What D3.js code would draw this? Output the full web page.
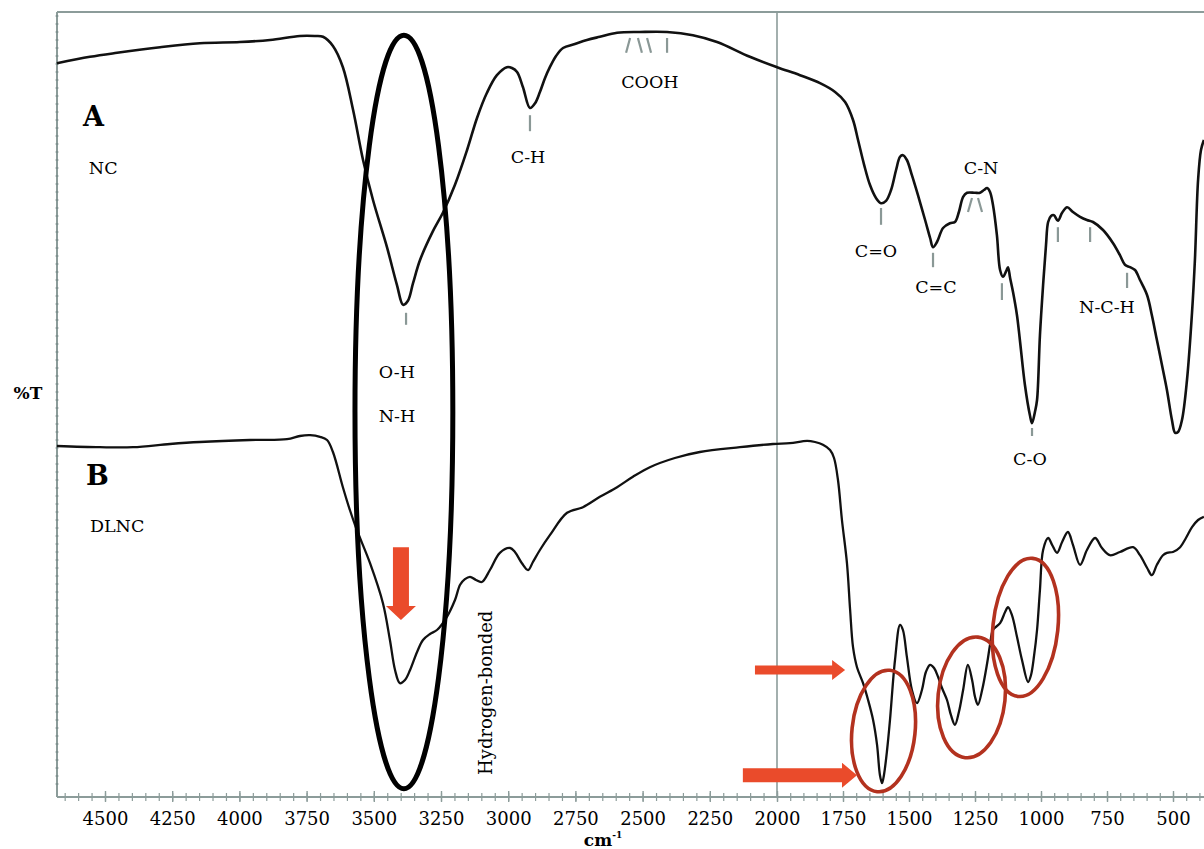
<!DOCTYPE html>
<html>
<head>
<meta charset="utf-8">
<script src="https://cdn.jsdelivr.net/npm/d3@7"></script>
<style>
  body { margin: 0; background: #fff; }
  svg { display: block; font-family: "DejaVu Serif", serif; }
</style>
</head>
<body>
<svg width="1204" height="849"></svg>
<script>
'use strict';
// wavenumber (cm-1), %T (arbitrary offset units)
const ncSpectrum = [
  [4679, 92.1], [4556, 92.9], [4455, 93.4], [4295, 94.1], [4147, 94.6], [3998, 94.75],
  [3886, 95], [3775, 95.5], [3719, 95.5], [3689, 95.4], [3652, 94.25], [3615, 91.6],
  [3577, 86.25], [3540, 80], [3503, 75], [3451, 69.1], [3414, 64.4], [3391, 61.9],
  [3373, 62.4], [3354, 64.6], [3328, 67.5], [3280, 71.1], [3243, 73.4], [3198, 76.9],
  [3153, 81.25], [3116, 85.25], [3079, 88.4], [3042, 90.6], [3005, 91.6], [2986, 91.5],
  [2967, 91], [2945, 89.1], [2919, 86.5], [2900, 87.1], [2882, 88.5], [2863, 90.25],
  [2845, 91.6], [2822, 93], [2796, 94], [2752, 94.5], [2707, 95], [2659, 95.4],
  [2595, 95.9], [2510, 96], [2409, 96], [2313, 95.6], [2223, 94.75], [2101, 92.9],
  [2000, 91.6], [1913, 90.6], [1837, 89.6], [1780, 88.5], [1742, 87.25], [1712, 85],
  [1693, 82.5], [1670, 79.4], [1648, 76.9], [1625, 75.25], [1606, 74.6], [1587, 74.9],
  [1568, 76.25], [1549, 78.75], [1534, 80.4], [1523, 80.6], [1508, 80], [1489, 78.1],
  [1466, 75.6], [1439, 72.5], [1420, 70.25], [1409, 69.1], [1394, 69.75], [1371, 71.5],
  [1345, 72.1], [1326, 72.25], [1311, 73.5], [1295, 75.4], [1280, 75.9], [1250, 75.9],
  [1231, 75.9], [1216, 76.25], [1204, 76.5], [1193, 76], [1182, 74.4], [1167, 70.6],
  [1155, 66.25], [1144, 65.4], [1132, 66.1], [1125, 66.6], [1117, 65.25], [1106, 63.5],
  [1091, 60.6], [1080, 57.5], [1061, 51.9], [1042, 48.1], [1034, 47.1], [1023, 48.5],
  [1015, 50], [1004, 58.1], [992, 64.4], [981, 69.4], [973, 72.25], [962, 73],
  [951, 73.1], [936, 72.4], [920, 73.4], [901, 74.1], [879, 73.5], [852, 72.9],
  [826, 72.5], [803, 72.25], [765, 71.25], [727, 69.6], [701, 68.1], [682, 66.9],
  [663, 66.6], [644, 66.25], [625, 65], [598, 63.1], [580, 60.6], [561, 57.5],
  [542, 54.4], [523, 51.25], [504, 47.5], [492, 45.9], [481, 46], [466, 47.5],
  [447, 52.5], [428, 60.9], [417, 67.5], [405, 77.5], [394, 81.25], [383, 82.5]
];

const dlncSpectrum = [
  [4679, 44.25], [4519, 44.1], [4396, 44.1], [4258, 44.5], [4147, 44.75], [3961, 45],
  [3823, 45.1], [3775, 45.5], [3737, 45.6], [3700, 45.4], [3674, 45], [3652, 43.5],
  [3615, 39.1], [3589, 36.25], [3563, 33.75], [3514, 29.6], [3466, 24.6], [3440, 20],
  [3421, 16.25], [3403, 14.6], [3384, 15], [3365, 16.25], [3339, 18.5], [3317, 20],
  [3291, 20.75], [3265, 21.25], [3228, 22.9], [3198, 25], [3179, 26.9], [3161, 27.6],
  [3142, 27.9], [3120, 27.5], [3098, 27.25], [3068, 28.75], [3031, 30.9], [2993, 31.5],
  [2975, 31], [2949, 29.6], [2926, 28.75], [2908, 29.75], [2882, 31.25], [2845, 33.1],
  [2781, 35.9], [2722, 36.6], [2659, 37.9], [2595, 39.1], [2536, 40.4], [2473, 41.6],
  [2380, 42.75], [2287, 43.5], [2138, 44.1], [2015, 44.5], [1951, 44.6], [1886, 44.9],
  [1856, 44.75], [1826, 44.4], [1799, 43.75], [1784, 42.75], [1769, 40], [1754, 35],
  [1735, 29.6], [1723, 23.75], [1712, 19.1], [1697, 16.6], [1674, 14.6], [1655, 12.5],
  [1636, 10], [1621, 6.9], [1610, 3.1], [1602, 2.1], [1595, 3.1], [1583, 6.25],
  [1572, 10], [1553, 17.5], [1534, 21.9], [1523, 21.25], [1508, 17.9], [1489, 13.75],
  [1470, 12.1], [1451, 13.75], [1436, 16], [1420, 16.9], [1405, 16.5], [1390, 15.4],
  [1375, 14], [1356, 12.5], [1341, 10.6], [1326, 9.4], [1311, 11], [1295, 13.75],
  [1277, 16.9], [1261, 15], [1250, 12.9], [1239, 11.9], [1223, 13.75], [1204, 17.1],
  [1193, 19.4], [1182, 21.25], [1155, 22.1], [1136, 23.5], [1125, 24.1], [1110, 23.1],
  [1091, 20.4], [1072, 17.5], [1049, 14.75], [1038, 15.6], [1026, 18.1], [1015, 21.25],
  [1004, 26.25], [992, 31.25], [973, 32.75], [958, 31.9], [939, 30.9], [920, 32.25],
  [898, 33.5], [879, 31.9], [852, 29.4], [826, 31.25], [795, 32.75], [769, 31.5],
  [739, 30.6], [701, 31], [651, 31.6], [625, 30.6], [598, 29], [580, 28.1],
  [561, 29.4], [538, 30.6], [523, 30.9], [500, 31], [473, 31.6], [451, 32.75],
  [428, 34.1], [405, 35], [383, 35.4]
];

const majorTicks = d3.range(4500, 499, -250);
const minorTicks = d3.range(4650, 399, -50);

const panelLabels = [
  { text: 'A', wave: 4582, t: 84.25, bold: true },
  { text: 'NC', wave: 4560, t: 78.25 },
  { text: 'B', wave: 4571, t: 39.4, bold: true },
  { text: 'DLNC', wave: 4556, t: 33.5 }
];

const peakLabels = [
  { text: 'O-H', wave: 3414, t: 52.75 },
  { text: 'N-H', wave: 3414, t: 47.25 },
  { text: 'C-H', wave: 2926, t: 79.6 },
  { text: 'COOH', wave: 2473, t: 89 },
  { text: 'C=O', wave: 1625, t: 67.9 },
  { text: 'C=C', wave: 1398, t: 63.4 },
  { text: 'C-N', wave: 1227, t: 78.25 },
  { text: 'N-C-H', wave: 750, t: 60.9 },
  { text: 'C-O', wave: 1042, t: 41.9 }
];

// [wave, top %T, bottom %T, lean]
const peakTicks = [
  [3380, 60.9, 59.4, 0], [2919, 85.6, 83.6, 0],
  [2554, 95.25, 93.4, 1], [2510, 95.25, 93.4, -1], [2476, 95.25, 93.4, -1], [2409, 95.25, 93.4, 0],
  [1606, 74, 71.9, 0], [1409, 68.4, 66.6, 0],
  [1269, 75.25, 73.5, 1], [1231, 75.25, 73.5, -1],
  [1148, 64.6, 62.5, 0], [936, 71.6, 69.75, 0], [814, 71.6, 69.75, 0],
  [674, 65.9, 64, 0], [1034, 46.5, 45.5, 0]
];

// ellipse bounds: wave1, wave2, t1, t2
const blackRing = [3570, 3206, 95.6, 1.4];
const redRings = [
  [1716, 1477, 16.25, 1],
  [1390, 1136, 20.4, 5.25],
  [1182, 936, 30.25, 12.9]
];

const svg = d3.select('svg');
const plot = { left: 57, right: 1204, top: 12, bottom: 797 };
const axisColor = '#8c9c9a';

const x = d3.scaleLinear().domain([4500, 2000, 500]).range([105, 777, 1173]);
const y = d3.scaleLinear().domain([0, 100]).range([800, 0]);

svg.append('rect').attr('width', 1204).attr('height', 849).attr('fill', '#fff');

// frame
svg.append('line')
  .attr('x1', plot.left).attr('x2', plot.right)
  .attr('y1', plot.top).attr('y2', plot.top)
  .attr('stroke', axisColor).attr('stroke-width', 2);
svg.append('line')
  .attr('x1', plot.left).attr('x2', plot.left)
  .attr('y1', plot.top).attr('y2', plot.bottom)
  .attr('stroke', axisColor).attr('stroke-width', 2);
svg.append('line')
  .attr('x1', x(2000)).attr('x2', x(2000))
  .attr('y1', plot.top).attr('y2', plot.bottom)
  .attr('stroke', axisColor).attr('stroke-width', 1.6);

// little dots along the left edge
svg.append('g')
  .selectAll('line')
  .data(d3.range(2, 99, 1))
  .join('line')
    .attr('x1', plot.left - 1.5).attr('x2', plot.left + 1.5)
    .attr('y1', d => y(d)).attr('y2', d => y(d))
    .attr('stroke', '#6f8381').attr('stroke-width', 1);

// x axis
const xaxis = svg.append('g').attr('transform', `translate(0, ${plot.bottom})`);
xaxis.append('line')
  .attr('x1', plot.left).attr('x2', plot.right)
  .attr('stroke', axisColor).attr('stroke-width', 2);
xaxis.append('g')
  .call(d3.axisBottom(x).tickValues(minorTicks).tickFormat('').tickSize(4))
  .call(g => g.select('.domain').remove())
  .selectAll('.tick line')
    .attr('y1', -4).attr('stroke', axisColor).attr('stroke-width', 1.2);
xaxis.append('g')
  .call(d3.axisBottom(x).tickValues(majorTicks).tickFormat(d3.format('d')).tickSize(5).tickPadding(10))
  .call(g => g.select('.domain').remove())
  .call(g => g.selectAll('.tick line').attr('y1', -6).attr('stroke', axisColor).attr('stroke-width', 1.4))
  .selectAll('.tick text')
    .attr('font-family', '"DejaVu Serif", serif')
    .attr('font-size', 18)
    .attr('fill', '#000');

// axis titles
svg.append('text')
  .attr('x', 28).attr('y', (plot.top + plot.bottom) / 2 - 6)
  .attr('text-anchor', 'middle')
  .attr('font-weight', 'bold').attr('font-size', 17)
  .text('%T');
const unit = svg.append('text')
  .attr('x', 603).attr('y', 846)
  .attr('text-anchor', 'middle')
  .attr('font-weight', 'bold').attr('font-size', 17);
unit.append('tspan').text('cm');
unit.append('tspan').attr('dy', -8).attr('font-size', 9).text('-1');

// spectra
const line = d3.line()
  .x(d => x(d[0]))
  .y(d => y(d[1]))
  .curve(d3.curveCatmullRom.alpha(0.5));

svg.append('path').datum(ncSpectrum)
  .attr('d', line).attr('fill', 'none')
  .attr('stroke', '#111').attr('stroke-width', 2.6)
  .attr('stroke-linejoin', 'round');
svg.append('path').datum(dlncSpectrum)
  .attr('d', line).attr('fill', 'none')
  .attr('stroke', '#111').attr('stroke-width', 2.3)
  .attr('stroke-linejoin', 'round');

// peak ticks
svg.append('g')
  .selectAll('line')
  .data(peakTicks)
  .join('line')
    .attr('x1', d => x(d[0]) + d[3] * 2).attr('x2', d => x(d[0]) - d[3] * 2)
    .attr('y1', d => y(d[1])).attr('y2', d => y(d[2]))
    .attr('stroke', '#8a9896').attr('stroke-width', 2.2);

// labels
svg.append('g')
  .selectAll('text')
  .data(panelLabels)
  .join('text')
    .attr('x', d => x(d.wave)).attr('y', d => y(d.t))
    .attr('font-size', d => d.bold ? 27 : 17.5)
    .attr('font-weight', d => d.bold ? 'bold' : 'normal')
    .attr('fill', '#000')
    .text(d => d.text);

svg.append('g')
  .selectAll('text')
  .data(peakLabels)
  .join('text')
    .attr('x', d => x(d.wave)).attr('y', d => y(d.t))
    .attr('text-anchor', 'middle')
    .attr('font-size', 17.5)
    .attr('fill', '#000')
    .text(d => d.text);

svg.append('text')
  .attr('transform', `translate(${x(3060)}, ${y(13.4)}) rotate(-90)`)
  .attr('text-anchor', 'middle')
  .attr('font-size', 18)
  .attr('fill', '#000')
  .text('Hydrogen-bonded');

// rings
function ring(b) {
  return {
    cx: (x(b[0]) + x(b[1])) / 2,
    cy: (y(b[2]) + y(b[3])) / 2,
    rx: Math.abs(x(b[0]) - x(b[1])) / 2,
    ry: Math.abs(y(b[2]) - y(b[3])) / 2
  };
}

const br = ring(blackRing);
svg.append('ellipse')
  .attr('cx', br.cx).attr('cy', br.cy).attr('rx', br.rx).attr('ry', br.ry)
  .attr('fill', 'none').attr('stroke', '#000').attr('stroke-width', 5);

svg.append('g')
  .selectAll('ellipse')
  .data(redRings.map(ring))
  .join('ellipse')
    .attr('transform', d => `translate(${d.cx}, ${d.cy}) rotate(6)`)
    .attr('rx', d => d.rx).attr('ry', d => d.ry)
    .attr('fill', 'none').attr('stroke', '#b3321f').attr('stroke-width', 3.6);

// arrows
const arrowRed = '#ea4b2b';
function downArrow(wave, t1, t2, shaft, head, headLen) {
  const cx = x(wave), y1 = y(t1), y2 = y(t2);
  const p = [
    [cx - shaft / 2, y1], [cx + shaft / 2, y1], [cx + shaft / 2, y2 - headLen],
    [cx + head / 2, y2 - headLen], [cx, y2], [cx - head / 2, y2 - headLen],
    [cx - shaft / 2, y2 - headLen]
  ];
  svg.append('polygon').attr('points', p.join(' ')).attr('fill', arrowRed);
}
function rightArrow(w1, w2, t, shaft, head, headLen) {
  const x1 = x(w1), x2 = x(w2), cy = y(t);
  const p = [
    [x1, cy - shaft / 2], [x2 - headLen, cy - shaft / 2], [x2 - headLen, cy - head / 2],
    [x2, cy], [x2 - headLen, cy + head / 2], [x2 - headLen, cy + shaft / 2],
    [x1, cy + shaft / 2]
  ];
  svg.append('polygon').attr('points', p.join(' ')).attr('fill', arrowRed);
}
downArrow(3399, 31.6, 22.5, 16, 30, 14);
rightArrow(2082, 1742, 16.25, 9, 20, 13);
rightArrow(2127, 1697, 3.1, 14, 25, 15);
</script>
</body>
</html>
